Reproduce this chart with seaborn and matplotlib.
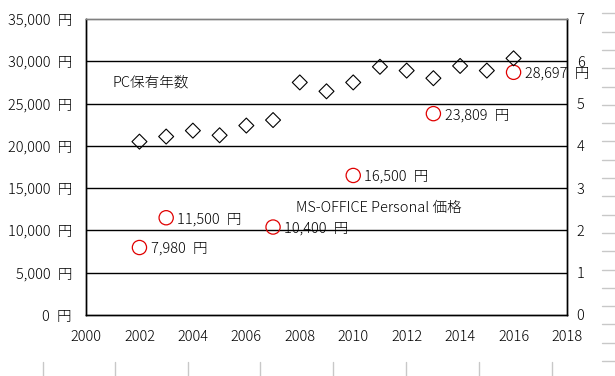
import matplotlib
matplotlib.use("Agg")
import matplotlib.pyplot as plt
from matplotlib.lines import Line2D
import seaborn as sns
import pandas as pd

# ---- data ----
pc_years = [2002, 2003, 2004, 2005, 2006, 2007, 2008, 2009, 2010, 2011, 2012, 2013, 2014, 2015, 2016]
pc_own = [4.10, 4.22, 4.36, 4.25, 4.48, 4.61, 5.50, 5.29, 5.50, 5.87, 5.78, 5.60, 5.89, 5.78, 6.07]
price_years = [2002, 2003, 2007, 2010, 2013, 2016]
prices = [7980, 11500, 10400, 16500, 23809, 28697]
left_ticks = [0, 5000, 10000, 15000, 20000, 25000, 30000, 35000]
right_ticks = [0, 1, 2, 3, 4, 5, 6, 7]
x_ticks = [2000, 2002, 2004, 2006, 2008, 2010, 2012, 2014, 2016, 2018]

sns.set_theme(style="white")
plt.rcParams['font.family'] = ['Noto Sans CJK JP', 'DejaVu Sans']
plt.rcParams['font.weight'] = 'light'
FS = 10.5
SP = "\u2002"  # wider gap before 円 as in the reference

W, H = 615, 376
fig = plt.figure(figsize=(W / 100, H / 100), dpi=100)
ax = fig.add_axes([86 / W, 1 - 315 / H, (567 - 86) / W, (315 - 19) / H])
ax2 = ax.twinx()

df_pc = pd.DataFrame({"year": pc_years, "own": pc_own})
df_pr = pd.DataFrame({"year": price_years, "price": prices})

# gridlines
for v in left_ticks[1:-1]:
    ax.axhline(v, color="black", lw=1.0, zorder=1)

sns.scatterplot(data=df_pr, x="year", y="price", ax=ax, marker="o", s=105,
                facecolor="none", edgecolor="#e00000", linewidth=0.9, zorder=3)
sns.scatterplot(data=df_pc, x="year", y="own", ax=ax2, marker="D", s=58,
                facecolor="none", edgecolor="black", linewidth=0.8, zorder=3)

for x, p in zip(price_years, prices):
    ax.annotate(f"{p:,}{SP}円", (x, p), xytext=(8, -1), textcoords="offset points",
                ha="left", va="center", fontsize=FS, color="black",
                annotation_clip=False, zorder=4)

ax.text(2001.0, 27550, "PC保有年数", fontsize=FS, va="center", ha="left", color="black")
ax.text(2007.85, 12650, "MS-OFFICE Personal 価格", fontsize=FS, va="center", ha="left",
        color="black")

ax.set_xlim(2000, 2018)
ax.set_ylim(0, 35000)
ax2.set_ylim(0, 7)
ax.set_xticks(x_ticks)
ax.set_xticklabels([str(t) for t in x_ticks], fontsize=FS)
ax.set_yticks(left_ticks)
ax.set_yticklabels([f"{t:,}{SP}円" for t in left_ticks], fontsize=FS)
ax2.set_yticks(right_ticks)
ax2.set_yticklabels([str(t) for t in right_ticks], fontsize=FS)
ax.set_xlabel("")
ax.set_ylabel("")
ax2.set_ylabel("")

ax.tick_params(axis="x", direction="in", length=4, width=0.8, colors="black", pad=11)
ax.tick_params(axis="y", length=0, pad=10)
ax2.tick_params(axis="y", length=0, pad=7)
ax.tick_params(labelcolor="black")
ax2.tick_params(labelcolor="black")

for a in (ax, ax2):
    for side in ("left", "right", "bottom"):
        a.spines[side].set_color("black")
        a.spines[side].set_linewidth(1.0)
    a.spines["top"].set_color("#808080")
    a.spines["top"].set_linewidth(1.0)
ax.set_facecolor("white")

# faint spreadsheet cell marks around the chart
def fig_line(x0, y0, x1, y1):
    fig.add_artist(Line2D([x0 / W, x1 / W], [1 - y0 / H, 1 - y1 / H],
                          color="#c8c8c8", lw=1.0))

for xb in [43, 115, 188, 260, 333, 406, 479, 552]:
    fig_line(xb, 362, xb, 376)
for i in range(20):
    yb = 13.3 + i * 18.3
    fig_line(602, yb, 615, yb)

fig.savefig("out.png", dpi=100, facecolor="white")
